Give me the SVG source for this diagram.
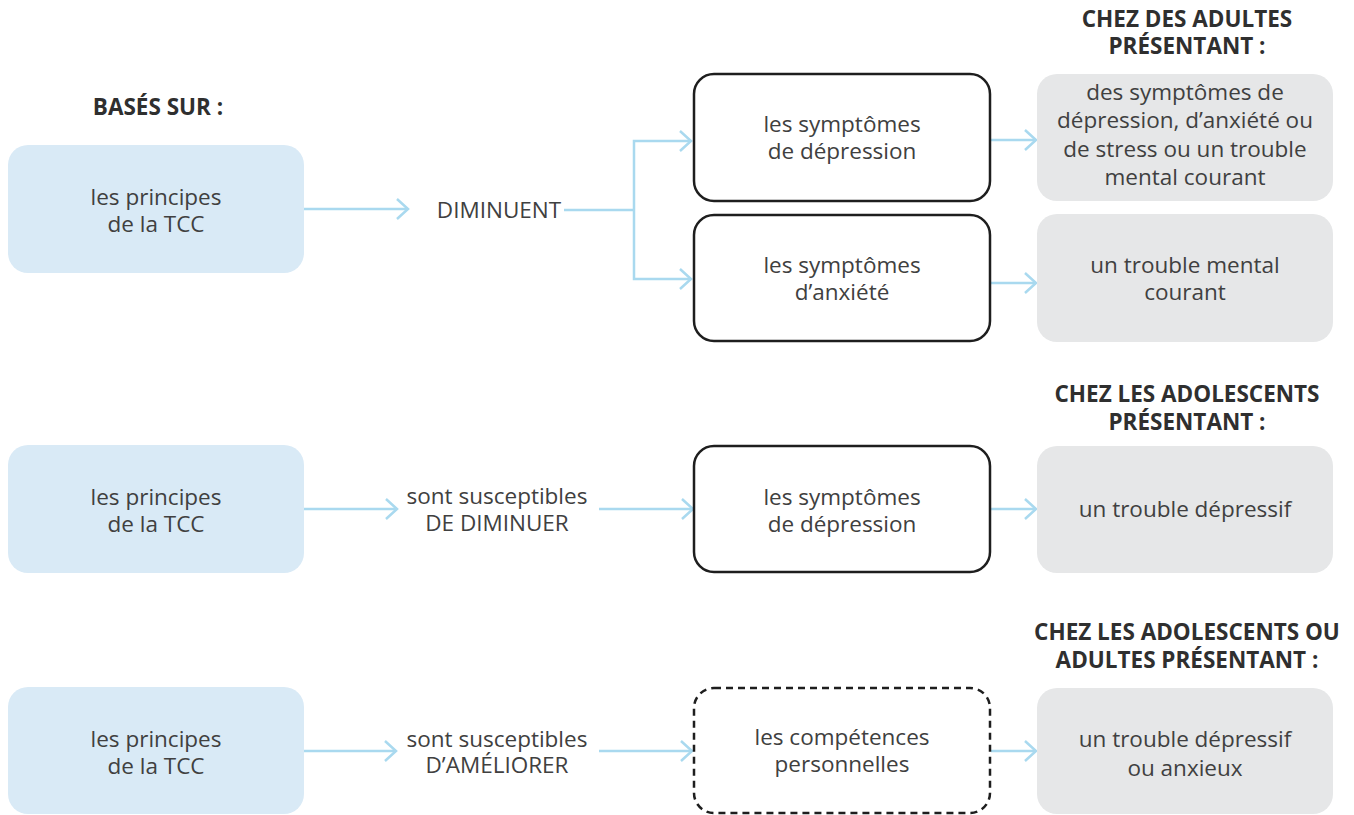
<svg xmlns="http://www.w3.org/2000/svg" width="1354" height="815" viewBox="0 0 1354 815">
<defs>
<style>
.t{font-family:"Open Sans","Noto Sans","Liberation Sans",sans-serif;font-size:22.5px;fill:#404040;text-anchor:middle}
.h{font-family:"Open Sans","Noto Sans","Liberation Sans",sans-serif;font-size:22.5px;font-weight:700;fill:#2f2f2f;text-anchor:middle}
.blue{fill:#d9eaf6}
.gray{fill:#e6e7e8}
.blk{fill:#ffffff;stroke:#1e1e1e;stroke-width:2.5}
.dash{fill:#ffffff;stroke:#1e1e1e;stroke-width:2.5;stroke-dasharray:7 5}
.c{fill:none;stroke:#a9d9ef;stroke-width:2.5;marker-end:url(#arr)}
.cl{fill:none;stroke:#a9d9ef;stroke-width:2.5}
</style>
<marker id="arr" markerUnits="userSpaceOnUse" viewBox="-14 -12 16 24" refX="0" refY="0" markerWidth="16" markerHeight="24" orient="auto" overflow="visible">
<path d="M-11,-10 L0,0 L-11,10" fill="none" stroke="#a9d9ef" stroke-width="2.5"/>
</marker>
</defs>
<rect width="1354" height="815" fill="#ffffff"/>

<g id="headers">
<text class="h" x="158" y="115">BASÉS SUR :</text>
<text class="h" x="1187" y="27">CHEZ DES ADULTES</text>
<text class="h" x="1187" y="54">PRÉSENTANT :</text>
<text class="h" x="1187" y="402">CHEZ LES ADOLESCENTS</text>
<text class="h" x="1187" y="430">PRÉSENTANT :</text>
<text class="h" x="1187" y="640">CHEZ LES ADOLESCENTS OU</text>
<text class="h" x="1187" y="668">ADULTES PRÉSENTANT :</text>
</g>

<g id="connectors">
<path class="c" d="M304,209 H408"/>
<path class="cl" d="M564,210 H634"/>
<path class="c" d="M634,210 V141 H691"/>
<path class="c" d="M634,210 V279 H691"/>
<path class="c" d="M991,140 H1036"/>
<path class="c" d="M991,283 H1036"/>
<path class="c" d="M304,509 H397"/>
<path class="c" d="M599,509 H693"/>
<path class="c" d="M991,509 H1036"/>
<path class="c" d="M304,751 H396"/>
<path class="c" d="M599,751 H692"/>
<path class="c" d="M991,751 H1036"/>
</g>

<g id="n-tcc1">
<rect class="blue" x="8" y="145" width="296" height="128" rx="20"/>
<text class="t" x="156" y="205">les principes</text>
<text class="t" x="156" y="232">de la TCC</text>
</g>
<g id="n-diminuent">
<text class="t" x="499" y="218">DIMINUENT</text>
</g>
<g id="n-dep1">
<rect class="blk" x="694" y="74" width="296" height="127" rx="20"/>
<text class="t" x="842" y="132">les symptômes</text>
<text class="t" x="842" y="159">de dépression</text>
</g>
<g id="n-anx1">
<rect class="blk" x="694" y="215" width="296" height="126" rx="20"/>
<text class="t" x="842" y="273">les symptômes</text>
<text class="t" x="842" y="300">d’anxiété</text>
</g>
<g id="n-adult1">
<rect class="gray" x="1037" y="74" width="296" height="127" rx="20"/>
<text class="t" x="1185" y="100">des symptômes de</text>
<text class="t" x="1185" y="128">dépression, d’anxiété ou</text>
<text class="t" x="1185" y="157">de stress ou un trouble</text>
<text class="t" x="1185" y="185">mental courant</text>
</g>
<g id="n-adult2">
<rect class="gray" x="1037" y="214" width="296" height="128" rx="20"/>
<text class="t" x="1185" y="273">un trouble mental</text>
<text class="t" x="1185" y="300">courant</text>
</g>

<g id="n-tcc2">
<rect class="blue" x="8" y="445" width="296" height="128" rx="20"/>
<text class="t" x="156" y="505">les principes</text>
<text class="t" x="156" y="532">de la TCC</text>
</g>
<g id="n-diminuer">
<text class="t" x="497" y="504">sont susceptibles</text>
<text class="t" x="497" y="531">DE DIMINUER</text>
</g>
<g id="n-dep2">
<rect class="blk" x="694" y="446" width="296" height="126" rx="20"/>
<text class="t" x="842" y="505">les symptômes</text>
<text class="t" x="842" y="532">de dépression</text>
</g>
<g id="n-ado">
<rect class="gray" x="1037" y="446" width="296" height="127" rx="20"/>
<text class="t" x="1185" y="517">un trouble dépressif</text>
</g>

<g id="n-tcc3">
<rect class="blue" x="8" y="687" width="296" height="127" rx="20"/>
<text class="t" x="156" y="747">les principes</text>
<text class="t" x="156" y="774">de la TCC</text>
</g>
<g id="n-ameliorer">
<text class="t" x="497" y="747">sont susceptibles</text>
<text class="t" x="497" y="773">D’AMÉLIORER</text>
</g>
<g id="n-comp">
<rect class="dash" x="694" y="688" width="296" height="125" rx="20"/>
<text class="t" x="842" y="745">les compétences</text>
<text class="t" x="842" y="772">personnelles</text>
</g>
<g id="n-adoadult">
<rect class="gray" x="1037" y="688" width="296" height="126" rx="20"/>
<text class="t" x="1185" y="747">un trouble dépressif</text>
<text class="t" x="1185" y="776">ou anxieux</text>
</g>
</svg>
